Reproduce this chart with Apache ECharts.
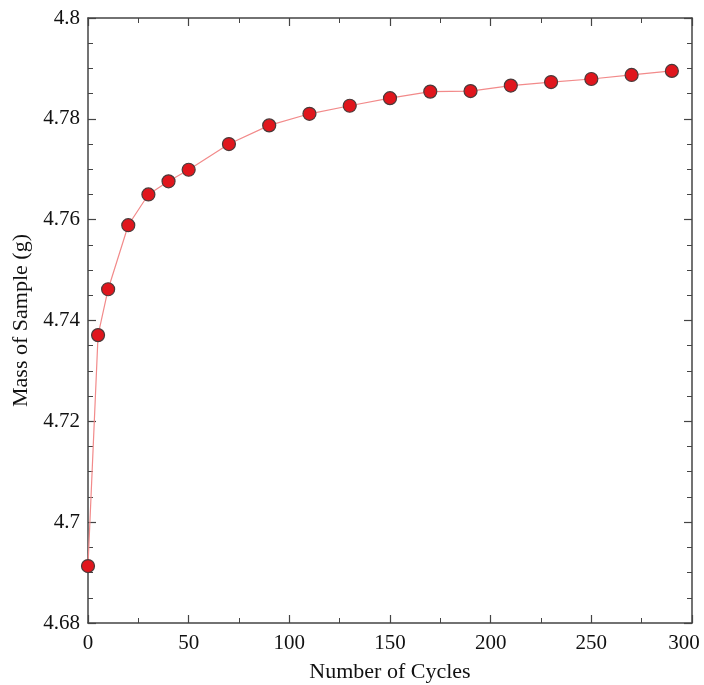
<!DOCTYPE html>
<html>
<head>
<meta charset="utf-8">
<script src="https://cdn.jsdelivr.net/npm/echarts@6/dist/echarts.min.js"></script>
<style>html,body{margin:0;padding:0;background:#fff;overflow:hidden;}#c{width:704px;height:685px;}</style>
</head>
<body>
<div id="c"></div>
<script>
const cycles = [0, 5, 10, 20, 30, 40, 50, 70, 90, 110, 130, 150, 170, 190, 210, 230, 250, 270, 290];
const mass = [4.6913, 4.7371, 4.7462, 4.7589, 4.7650, 4.7676, 4.7699, 4.7750, 4.7787, 4.7810, 4.7826, 4.7841, 4.7854, 4.7855, 4.7866, 4.7873, 4.7879, 4.7887, 4.7895];
const xTitle = 'Number of Cycles';
const yTitle = 'Mass of Sample (g)';

const font = 'Liberation Serif';
const axisColor = '#444';
const chart = echarts.init(document.getElementById('c'), null, {renderer: 'canvas'});
const data = cycles.map((c, i) => [c, mass[i]]);

function axisCommon(extra) {
  return Object.assign({
    axisLine: {show: true, onZero: false, lineStyle: {color: axisColor, width: 1.5}},
    axisTick: {show: true, inside: true, length: 8, lineStyle: {color: axisColor, width: 1.2}},
    splitLine: {show: false},
    minorSplitLine: {show: false}
  }, extra);
}

chart.setOption({
  animation: false,
  backgroundColor: '#fff',
  grid: {left: 88, right: 12, top: 18, bottom: 62, containLabel: false, outerBoundsMode: 'none'},
  xAxis: [
    axisCommon({
      type: 'value', min: 0, max: 300, interval: 50, position: 'bottom',
      minorTick: {show: true, splitNumber: 2, length: 5, lineStyle: {color: axisColor, width: 1}},
      axisLabel: {show: true, margin: 10, color: '#111', fontFamily: font, fontSize: 21,
        formatter: v => v === 300 ? '{last|' + v + '}' : String(v),
        rich: {last: {fontFamily: font, fontSize: 21, color: '#111', padding: [0, 16, 0, 0]}}},
      name: xTitle, nameLocation: 'middle', nameGap: 38,
      nameTextStyle: {color: '#111', fontFamily: font, fontSize: 22}
    }),
    axisCommon({
      type: 'value', min: 0, max: 300, interval: 50, position: 'top',
      minorTick: {show: true, splitNumber: 2, length: 5, lineStyle: {color: axisColor, width: 1}},
      axisLabel: {show: false}
    })
  ],
  yAxis: [
    axisCommon({
      type: 'value', min: 4.68, max: 4.8, interval: 0.02, position: 'left',
      minorTick: {show: true, splitNumber: 4, length: 5, lineStyle: {color: axisColor, width: 1}},
      axisLabel: {show: true, margin: 8, color: '#111', fontFamily: font, fontSize: 21,
        formatter: v => String(Number(v.toFixed(2)))},
      name: yTitle, nameLocation: 'middle', nameGap: 48,
      nameTextStyle: {color: '#111', fontFamily: font, fontSize: 22}
    }),
    axisCommon({
      type: 'value', min: 4.68, max: 4.8, interval: 0.02, position: 'right',
      minorTick: {show: true, splitNumber: 4, length: 5, lineStyle: {color: axisColor, width: 1}},
      axisLabel: {show: false}
    })
  ],
  series: [{
    type: 'line',
    data: data,
    xAxisIndex: 0, yAxisIndex: 0,
    symbol: 'circle', symbolSize: 13,
    lineStyle: {color: '#f28a8a', width: 1.2},
    itemStyle: {color: '#e0161d', borderColor: '#4a3a3a', borderWidth: 1.2}
  }]
});
</script>
</body>
</html>
